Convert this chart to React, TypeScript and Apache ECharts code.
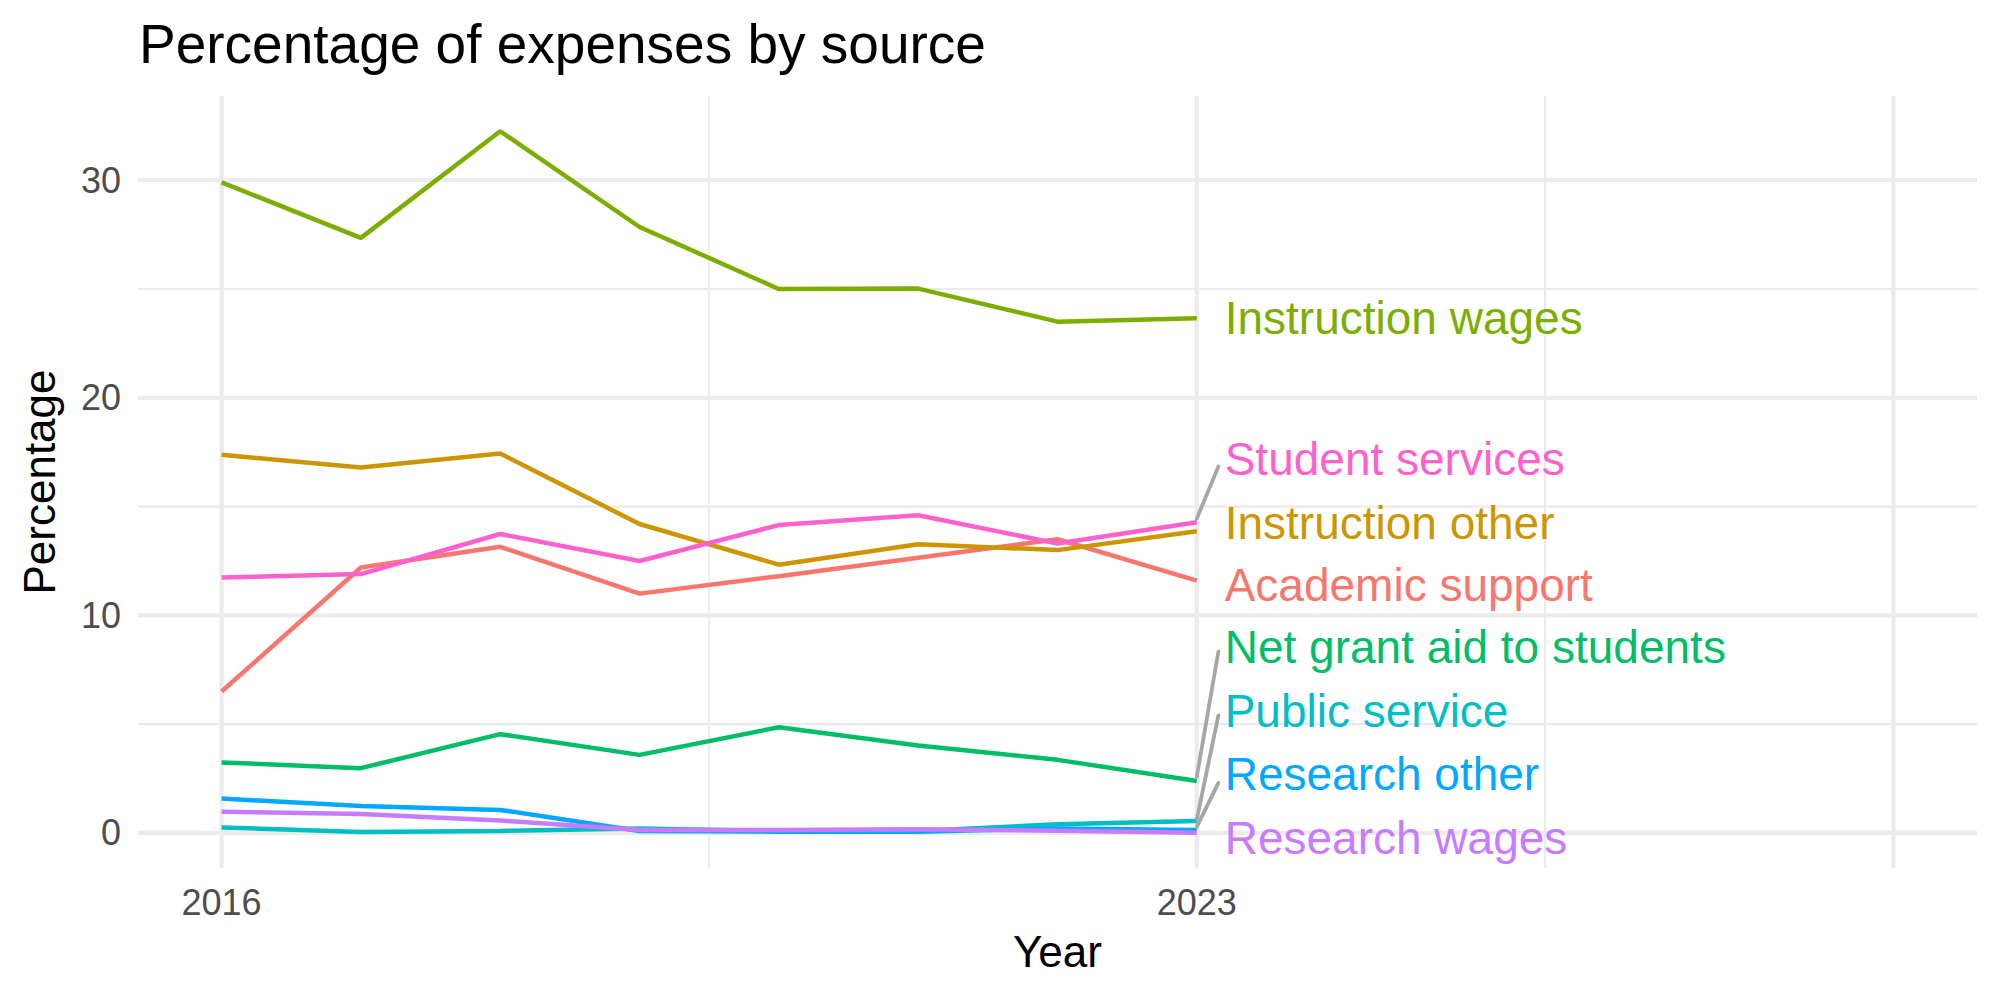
import React, { useEffect, useRef } from "react";
import * as echarts from "echarts";

// Yearly share of expenses (%) per source
const years = [2016, 2017, 2018, 2019, 2020, 2021, 2022, 2023];
const academicSupport = [6.5, 12.2, 13.15, 11.0, 11.8, 12.65, 13.5, 11.6];
const instructionOther = [17.38, 16.8, 17.44, 14.2, 12.33, 13.27, 13.0, 13.87];
const instructionWages = [29.9, 27.35, 32.25, 27.85, 25.0, 25.02, 23.5, 23.65];
const netGrantAid = [3.24, 2.98, 4.54, 3.59, 4.86, 4.02, 3.36, 2.39];
const publicService = [0.25, 0.05, 0.09, 0.21, 0.09, 0.09, 0.4, 0.55];
const researchOther = [1.58, 1.24, 1.06, 0.09, 0.06, 0.06, 0.21, 0.14];
const researchWages = [0.98, 0.87, 0.57, 0.14, 0.14, 0.17, 0.1, 0.01];
const studentServices = [11.74, 11.9, 13.74, 12.5, 14.15, 14.6, 13.3, 14.28];

const sourceNames = [
  "Academic support",
  "Instruction other",
  "Instruction wages",
  "Net grant aid to students",
  "Public service",
  "Research other",
  "Research wages",
  "Student services",
];
const sourceValues = [
  academicSupport,
  instructionOther,
  instructionWages,
  netGrantAid,
  publicService,
  researchOther,
  researchWages,
  studentServices,
];
const sourceColors = [
  "#F8766D",
  "#CD9600",
  "#7CAE00",
  "#00BE67",
  "#00BFC4",
  "#00A9FF",
  "#C77CFF",
  "#FF61CC",
];

// Repelled end-label heights (in %), same order as sourceNames
const labelHeights = [11.41, 14.25, 23.65, 8.54, 5.62, 2.71, -0.21, 17.18];
// Leader segments: [source index, start %, end %]
const leaders: [number, number, number][] = [
  [7, 14.45, 16.84],
  [3, 2.59, 8.34],
  [4, 0.64, 5.4],
  [5, 0.28, 2.3],
];

const xTicks = [2016, 2023];
const yTicks = [0, 10, 20, 30];
const xMajorGrid = [2016, 2023, 2028];
const xMinorGrid = [2019.5, 2025.5];
const yMajorGrid = [0, 10, 20, 30];
const yMinorGrid = [5, 15, 25];

const X_MIN = 2015.4;
const X_MAX = 2028.6;
const Y_MIN = -1.61;
const Y_MAX = 33.87;

const FONT = "'Liberation Sans', Arial, Helvetica, sans-serif";
const LABEL_X = 2023.2;
const LEADER_X = 2023.155;

export default function App() {
  const ref = useRef<HTMLDivElement>(null);

  useEffect(() => {
    if (!ref.current) return;
    const chart = echarts.init(ref.current, null, { renderer: "svg" });

    const gridLine = (data: number[][], width: number) => ({
      type: "line",
      data,
      z: 0,
      silent: true,
      showSymbol: false,
      symbol: "none",
      lineStyle: { color: "#EBEBEB", width },
      emphasis: { disabled: true },
    });

    const gridSeries = [
      ...xMinorGrid.map((v) => gridLine([[v, Y_MIN], [v, Y_MAX]], 2.2)),
      ...yMinorGrid.map((v) => gridLine([[X_MIN, v], [X_MAX, v]], 2.2)),
      ...xMajorGrid.map((v) => gridLine([[v, Y_MIN], [v, Y_MAX]], 4.2)),
      ...yMajorGrid.map((v) => gridLine([[X_MIN, v], [X_MAX, v]], 4.2)),
    ];

    const lineSeries = sourceNames.map((name, i) => ({
      type: "line",
      name,
      data: years.map((y, j) => [y, sourceValues[i][j]]),
      showSymbol: false,
      symbol: "none",
      z: 2,
      lineStyle: { color: sourceColors[i], width: 4.5 },
      itemStyle: { color: sourceColors[i] },
    }));

    const leaderSeries = leaders.map(([idx, from, to]) => ({
      type: "line",
      name: "leader-" + sourceNames[idx],
      data: [
        [years[years.length - 1], from],
        [LEADER_X, to],
      ],
      showSymbol: false,
      symbol: "none",
      z: 3,
      lineStyle: { color: "#A6A6A6", width: 3.8, cap: "round" },
    }));

    const labelSeries = {
      type: "scatter",
      symbolSize: 0,
      z: 4,
      itemStyle: { opacity: 1 },
      data: sourceNames.map((name, i) => ({
        name,
        value: [LABEL_X, labelHeights[i]],
        itemStyle: { color: sourceColors[i], opacity: 1 },
        label: { color: sourceColors[i], opacity: 1 },
      })),
      label: {
        show: true,
        position: "right",
        distance: 0,
        formatter: "{b}",
        fontSize: 46,
        fontFamily: FONT,
        opacity: 1,
      },
    };

    chart.setOption({
      animation: false,
      backgroundColor: "#ffffff",
      textStyle: { fontFamily: FONT },
      title: {
        text: "Percentage of expenses by source",
        left: 139,
        top: 16,
        padding: 0,
        textStyle: { fontSize: 55, fontWeight: "normal", color: "#000000", fontFamily: FONT },
      },
      grid: { left: 138, right: 23, top: 96, bottom: 132 },
      xAxis: {
        type: "value",
        min: X_MIN,
        max: X_MAX,
        name: "Year",
        nameLocation: "middle",
        nameGap: 61,
        nameTextStyle: { fontSize: 44, color: "#000000", fontFamily: FONT },
        axisLine: { show: false },
        axisTick: { show: false },
        splitLine: { show: false },
        axisLabel: {
          customValues: xTicks,
          fontSize: 36,
          color: "#4D4D4D",
          margin: 16,
          fontFamily: FONT,
          formatter: (v: number) => String(v),
        },
      },
      yAxis: {
        type: "value",
        min: Y_MIN,
        max: Y_MAX,
        name: "Percentage",
        nameLocation: "middle",
        nameGap: 77,
        nameTextStyle: { fontSize: 44, color: "#000000", fontFamily: FONT },
        axisLine: { show: false },
        axisTick: { show: false },
        splitLine: { show: false },
        axisLabel: {
          customValues: yTicks,
          fontSize: 36,
          color: "#4D4D4D",
          margin: 17,
          fontFamily: FONT,
          formatter: (v: number) => String(v),
        },
      },
      series: [...gridSeries, ...lineSeries, ...leaderSeries, labelSeries],
    });

    return () => chart.dispose();
  }, []);

  return (
    <div
      ref={ref}
      style={{ position: "fixed", left: 0, top: 0, width: 2000, height: 1000, background: "#fff" }}
    />
  );
}
